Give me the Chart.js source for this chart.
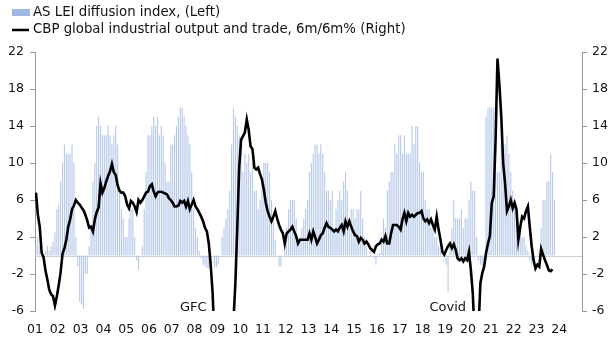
<!DOCTYPE html>
<html><head><meta charset="utf-8">
<script src="https://cdn.jsdelivr.net/npm/chart.js@4/dist/chart.umd.min.js"></script>
<style>html,body{margin:0;padding:0;background:#fff}#wrap{width:612px;height:348px}</style>
</head><body><div id="wrap"><canvas id="c" width="612" height="348"></canvas></div>
<script>
// Monthly data starting Jan 2001
const startYear = 2001;
const seriesNames = ["AS LEI diffusion index, (Left)", "CBP global industrial output and trade, 6m/6m% (Right)"];
const leiDiffusion = [
  1, 2, 1, 0, -0.5, 0.5, 1, 0.5, 1, 1.5, 2.5, 5,            // 2001
  5.5, 8, 10, 12, 11, 11, 11, 12, 10, 2, -1.2, -5,          // 2002
  -5.3, -5.8, -2, -2, 1, 3, 8, 10, 14, 15, 14, 13,          // 2003
  13, 13, 14, 13, 12, 13, 14, 12, 7, 5, 4, 2,               // 2004
  2, 4, 5, 5, 2, -0.5, -1.5, 0, 1, 5, 9, 13,                // 2005
  13, 14, 15, 14, 15, 13, 14, 13, 10, 8, 8, 12,             // 2006
  12, 13, 14, 15, 16, 16, 15, 14, 13, 12, 9, 5,             // 2007
  3, 2, 0.5, -0.3, -1, -1.2, -1.4, -1.4, -1.2, 0, -1.3, -1.3, // 2008
  -1, 0, 2, 3, 4, 5, 7, 12, 16, 15, 14, 13,                 // 2009
  12, 9, 11, 10, 11, 9, 10, 7, 7, 5, 6, 8,                  // 2010
  10, 10, 10, 9, 6, 4, 1.7, 0, -1.2, -1.2, 0, 1,            // 2011
  3, 5, 6, 6, 6, 4, 1.7, 2, 3, 4, 5, 6,                     // 2012
  9, 10, 11, 12, 12, 11, 12, 11, 9, 7, 7, 6,                // 2013
  7, 3, 5, 6, 7, 6, 8, 9, 7, 3, 5, 5,                       // 2014
  4, 5, 5, 7, 4, 2, 1, 0, 0.5, 0, -0.3, -1,                 // 2015
  0.2, 0.3, 2, 4, 3, 7, 8, 9, 9, 12, 11, 13,                // 2016
  13, 11, 13, 11, 11, 11, 14, 12, 14, 14, 10, 9,            // 2017
  9, 6, 5, 5, 3, 3, 2, 2, 1, 0.5, 0.3, 0,                   // 2018
  -1, -4, 1, 3, 6, 4, 4, 4, 5, 3, 4, 4,                     // 2019
  6, 8, 7, 7, 2, -0.5, -1, -1.2, -0.8, 15, 16, 16,          // 2020
  16, 16, 9, 9, 9, 12, 12, 12, 13, 11, 9, 7,                // 2021
  6, 5, 4, 3, 2, 2, 1, 0.5, -0.5, -1, 0, 0,                 // 2022
  0, 0.3, 3, 6, 6, 8, 8, 11, 9, 6                           // 2023
];
const cpbTrade = [
  6.8, 4.4, 3.1, 0.3, -0.2, -1.6, -2.6, -3.7, -4.2, -4.4, -5.4, -4.4,   // 2001
  -3.2, -1.8, 0.2, 0.8, 1.7, 3.1, 3.9, 5.0, 5.4, 6.0, 5.7, 5.5,         // 2002
  5.2, 4.9, 4.4, 3.8, 3.0, 3.1, 2.6, 3.9, 4.7, 5.2, 7.8, 6.8,           // 2003
  7.3, 8.0, 8.6, 9.1, 9.9, 9.0, 8.7, 7.6, 7.0, 6.8, 6.8, 6.4,           // 2004
  5.5, 5.1, 5.9, 5.7, 5.3, 4.7, 6.0, 5.7, 6.0, 6.4, 6.8, 6.9,           // 2005
  7.5, 7.7, 6.9, 6.4, 6.8, 6.9, 6.9, 6.8, 6.7, 6.6, 6.2, 6.0,           // 2006
  5.7, 5.3, 5.3, 5.4, 5.9, 5.7, 5.9, 5.3, 5.9, 5.0, 5.5, 6.0,           // 2007
  5.3, 5.0, 4.6, 4.2, 3.7, 3.0, 2.6, 1.3, -1.0, -4.0, -9, -14,          // 2008
  -18, -19, -18, -16, -14, -12, -10, -8.5, -7, -3, 3, 9.5,              // 2009
  12.5, 12.9, 13.3, 14.7, 13.6, 11.8, 11.5, 9.5, 9.3, 9.5, 8.8, 8.2,    // 2010
  7.1, 5.7, 4.8, 4.2, 3.7, 4.2, 4.8, 4.0, 3.3, 2.8, 2.4, 1.3,           // 2011
  2.4, 2.6, 2.8, 3.1, 2.6, 2.1, 1.3, 1.7, 1.7, 1.7, 1.7, 1.7,           // 2012
  2.4, 1.7, 2.6, 2.0, 1.3, 1.7, 2.2, 2.4, 3.0, 3.5, 3.1, 3.0,           // 2013
  2.8, 2.6, 2.8, 2.6, 3.0, 3.3, 2.6, 3.7, 3.1, 3.7, 3.1, 2.6,           // 2014
  2.2, 2.1, 1.5, 1.9, 1.7, 1.3, 1.5, 1.2, 0.8, 0.6, 0.4, 1.0,           // 2015
  1.2, 1.3, 1.7, 1.5, 2.1, 1.3, 1.3, 2.4, 3.3, 3.3, 3.3, 3.1,           // 2016
  2.8, 3.9, 4.6, 3.7, 4.6, 4.2, 4.4, 4.2, 4.4, 4.6, 4.6, 4.8,           // 2017
  4.0, 3.7, 3.9, 3.5, 3.9, 3.3, 2.8, 4.2, 2.8, 1.7, 0.4, 0.1,           // 2018
  0.6, 1.0, 1.3, 0.8, 1.2, 0.6, -0.3, -0.5, -0.3, -0.65, -0.3, -0.5,    // 2019
  0.4, -1.6, -4.1, -9, -12, -8, -3.0, -1.9, -1.2, 0.3, 1.3, 2.1,        // 2020
  5.7, 6.4, 12.5, 21.3, 18.5, 15, 10, 7.8, 4.8, 5.3, 6.0, 5.1,          // 2021
  5.7, 5.0, 1.7, 3.1, 4.2, 4.0, 4.8, 5.3, 3.1, 1.0, -0.5, -1.4,         // 2022
  -1.0, -1.2, 0.7, 0.1, -0.5, -1.0, -1.6, -1.7, -1.5                    // 2023
];
const yTicksMin = -6, yTicksMax = 22, yTickStep = 4;
const xMin = 2001, xMax = 2025;
const annotations = [
  { text: "GFC", x: 2008.53, y: -5.6, align: "right" },
  { text: "Covid", x: 2018.31, y: -5.6, align: "left" }
];

const toXY = arr => arr.map((v, i) => ({ x: startYear + (i + 0.5) / 12, y: v }));
const BAR_COLOR = 'rgb(184,202,234)';
const FONT = '"DejaVu Sans", Verdana, sans-serif';

const zeroLine = {
  id: 'zeroLine',
  beforeDatasetsDraw(chart) {
    const { ctx, chartArea, scales } = chart;
    const y = Math.round(scales.y.getPixelForValue(0)) + 0.5;
    ctx.save();
    ctx.strokeStyle = '#c9d0dc';
    ctx.lineWidth = 1;
    ctx.beginPath(); ctx.moveTo(chartArea.left, y); ctx.lineTo(chartArea.right, y); ctx.stroke();
    ctx.restore();
  }
};
const extras = {
  id: 'extras',
  afterDraw(chart) {
    const { ctx, scales } = chart;
    ctx.save();
    ctx.textBaseline = 'middle';
    // legend
    ctx.font = '13.3px ' + FONT;
    ctx.fillStyle = 'rgb(160,184,226)';
    ctx.fillRect(12, 9, 18, 7);
    ctx.fillStyle = '#111';
    ctx.textAlign = 'left';
    ctx.fillText(seriesNames[0], 33, 13);
    ctx.strokeStyle = '#000'; ctx.lineWidth = 2.5;
    ctx.beginPath(); ctx.moveTo(12, 30); ctx.lineTo(29, 30); ctx.stroke();
    ctx.fillText(seriesNames[1], 33, 30);
    // annotations
    ctx.font = '13px ' + FONT;
    annotations.forEach(a => {
      ctx.textAlign = a.align;
      ctx.fillText(a.text, scales.x.getPixelForValue(a.x), scales.y.getPixelForValue(a.y));
    });
    ctx.restore();
  }
};

new Chart(document.getElementById('c'), {
  type: 'bar',
  data: {
    datasets: [
      { type: 'line', label: seriesNames[1], data: toXY(cpbTrade), yAxisID: 'y2',
        borderColor: '#000', borderWidth: 2.6, pointRadius: 0, tension: 0, order: 0 },
      { type: 'bar', label: seriesNames[0], data: toXY(leiDiffusion), yAxisID: 'y',
        backgroundColor: BAR_COLOR, borderWidth: 0, barPercentage: 0.6, categoryPercentage: 1, order: 1 }
    ]
  },
  options: {
    responsive: false, animation: false, maintainAspectRatio: false,
    layout: { padding: { top: 52, bottom: 6, left: 0, right: 0 } },
    plugins: { legend: { display: false }, tooltip: { enabled: false } },
    scales: {
      x: {
        type: 'linear', min: xMin, max: xMax, offset: false,
        grid: { display: false }, border: { display: false },
        ticks: { stepSize: 1, autoSkip: false, maxRotation: 0, padding: 3, color: '#111',
          font: { family: FONT, size: 12.5 },
          callback: v => (v >= xMax ? '' : String(v % 100).padStart(2, '0')) },
        afterFit: s => { s.height = 31; }
      },
      y: {
        position: 'left', min: yTicksMin, max: yTicksMax,
        grid: { drawOnChartArea: false, drawTicks: true, tickLength: 5, tickColor: '#999' },
        border: { display: true, color: '#999', width: 1 },
        ticks: { stepSize: yTickStep, padding: 6, color: '#111', font: { family: FONT, size: 12.5 } },
        afterFit: s => { s.width = 35; }
      },
      y2: {
        position: 'right', min: yTicksMin, max: yTicksMax,
        grid: { drawOnChartArea: false, drawTicks: true, tickLength: 5, tickColor: '#999' },
        border: { display: true, color: '#999', width: 1 },
        ticks: { stepSize: yTickStep, padding: 5, color: '#111', font: { family: FONT, size: 12.5 } },
        afterFit: s => { s.width = 30; }
      }
    }
  },
  plugins: [zeroLine, extras]
});
</script></body></html>
